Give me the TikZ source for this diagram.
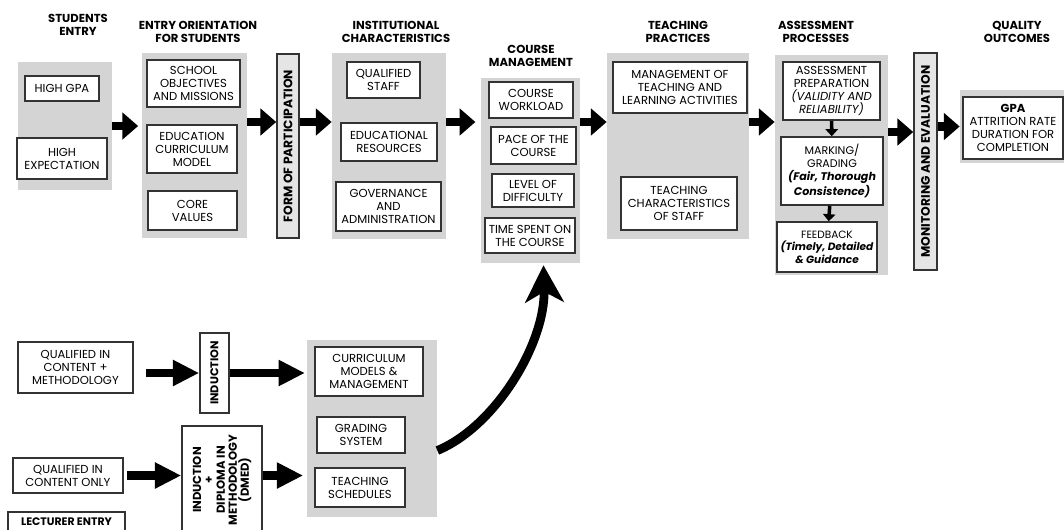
\documentclass[tikz,border=0pt]{standalone}
\usepackage{fontspec}
\setmainfont{Poppins}
\usetikzlibrary{arrows.meta,calc}

\begin{document}
\begin{tikzpicture}[x=0.02cm,y=-0.02cm,
	head/.style={font=\bfseries\fontsize{6.6}{7.4}\selectfont,align=center,inner sep=0pt},
	panel/.style={fill=black!17,inner sep=0pt},
	box/.style={draw=black!80,line width=0.9pt,fill=white,inner sep=1pt,align=center,font=\fontsize{6.6}{7.4}\selectfont},
	bar/.style={box,inner sep=0pt},
	bartxt/.style={rotate=90,font=\bfseries\fontsize{7}{7.6}\selectfont,align=center,inner sep=0pt},
	bigarrow/.style={line width=5pt,-{Triangle[length=9pt,width=15pt]}},
	lowarrow/.style={line width=5pt,-{Triangle[length=15pt,width=14pt]}},
	smallarrow/.style={line width=2pt,-{Triangle[length=4pt,width=7pt]}},
	curvearrow/.style={line width=5pt,-{Stealth[length=21pt,width=22pt,inset=6pt]}}]
	\useasboundingbox (0,0) rectangle (1064,529);
	%HEADINGS
	\node[head] (hStud) at (78,25) {STUDENTS\\ENTRY};
	\node[head] (hOrient) at (198,32) {ENTRY ORIENTATION\\FOR STUDENTS};
	\node[head] (hInst) at (396,32) {INSTITUTIONAL\\CHARACTERISTICS};
	\node[head] (hCourse) at (531,56) {COURSE\\MANAGEMENT};
	\node[head] (hTeach) at (678,32) {TEACHING\\PRACTICES};
	\node[head] (hAssess) at (816,32) {ASSESSMENT\\PROCESSES};
	\node[head] (hQual) at (1017,32) {QUALITY\\OUTCOMES};
	%GREY PANELS
	\node[panel,minimum width=1.88cm,minimum height=2.56cm] (pStud) at (65,126) {};
	\node[panel,minimum width=2.10cm,minimum height=3.70cm] (pOrient) at (194.5,145.5) {};
	\node[panel,minimum width=2.28cm,minimum height=3.72cm] (pInst) at (389,146) {};
	\node[panel,minimum width=1.98cm,minimum height=3.70cm] (pCourse) at (530.5,170.5) {};
	\node[panel,minimum width=2.84cm,minimum height=3.72cm] (pTeach) at (678,146) {};
	\node[panel,minimum width=2.26cm,minimum height=4.40cm] (pAssess) at (831.5,165) {};
	\node[panel,minimum width=2.10cm,minimum height=1.46cm] (pQual) at (1012.5,126.5) {};
	\node[panel,minimum width=2.60cm,minimum height=3.54cm] (pCurr) at (372,428.5) {};
	%STUDENTS ENTRY
	\node[box,minimum width=1.48cm,minimum height=0.50cm] (gpa) at (62,88.5) {HIGH GPA};
	\node[box,minimum width=1.80cm,minimum height=0.82cm] (expect) at (62,158.5) {HIGH\\EXPECTATION};
	%ORIENTATION
	\node[box,minimum width=1.86cm,minimum height=0.94cm] (school) at (193.5,83.5) {SCHOOL\\OBJECTIVES\\AND MISSIONS};
	\node[box,minimum width=1.80cm,minimum height=0.96cm] (educ) at (192,149) {EDUCATION\\CURRICULUM\\MODEL};
	\node[box,minimum width=1.78cm,minimum height=0.78cm] (core) at (192.5,210.5) {CORE\\VALUES};
	\node[bar,fill=black!10,minimum width=0.44cm,minimum height=3.68cm,label={[bartxt]center:FORM OF PARTICIPATION}] (form) at (288,146) {};
	%INSTITUTION
	\node[box,minimum width=1.46cm,minimum height=0.72cm] (staff) at (383.5,80) {QUALIFIED\\STAFF};
	\node[box,minimum width=1.92cm,minimum height=0.76cm] (res) at (389,142) {EDUCATIONAL\\RESOURCES};
	\node[box,minimum width=2.10cm,minimum height=0.98cm] (gov) at (388.5,206.5) {GOVERNANCE\\AND\\ADMINISTRATION};
	%COURSE
	\node[box,minimum width=1.68cm,minimum height=0.72cm] (work) at (531,100) {COURSE\\WORKLOAD};
	\node[box,minimum width=1.70cm,minimum height=0.74cm] (pace) at (533.5,145.5) {PACE OF THE\\COURSE};
	\node[box,minimum width=1.64cm,minimum height=0.66cm] (level) at (533,190.5) {LEVEL OF\\DIFFICULTY};
	\node[box,minimum width=1.80cm,minimum height=0.70cm] (time) at (530,235.5) {TIME SPENT ON\\THE COURSE};
	%TEACHING
	\node[box,minimum width=2.68cm,minimum height=1.02cm] (mgmt) at (680,87.5) {MANAGEMENT OF\\TEACHING AND\\LEARNING ACTIVITIES};
	\node[box,minimum width=2.32cm,minimum height=1.06cm] (tchar) at (679,203.5) {TEACHING\\CHARACTERISTICS\\OF STAFF};
	%ASSESSMENT
	\node[box,minimum width=1.94cm,minimum height=1.16cm] (prep) at (831.5,91) {ASSESSMENT\\PREPARATION\\\textit{(VALIDITY AND}\\\textit{RELIABILITY)}};
	\node[box,font=\fontsize{6.3}{7.4}\selectfont,minimum width=2.04cm,minimum height=1.36cm] (mark) at (832,171) {MARKING/\\GRADING\\\textbf{\textit{(Fair, Thorough}}\\\textbf{\textit{Consistence)}}};
	\node[box,font=\fontsize{6}{7.2}\selectfont,minimum width=2.00cm,minimum height=1.00cm] (feed) at (827,247) {FEEDBACK\\\textbf{\textit{(Timely, Detailed}}\\\textbf{\textit{\& Guidance}}};
	\draw[smallarrow] (prep) -- (mark);
	\draw[smallarrow] (mark) -- (feed);
	\node[bar,fill=black!10,minimum width=0.46cm,minimum height=4.34cm,label={[bartxt]center:MONITORING AND EVALUATION}] (monit) at (925.5,161.5) {};
	%OUTCOMES
	\node[box,minimum width=2.00cm,minimum height=1.24cm] (out) at (1013,128) {\textbf{GPA}\\ATTRITION RATE\\DURATION FOR\\COMPLETION};
	%MAIN ROW ARROWS
	\coordinate (row) at (0,122);
	\coordinate (row2) at (0,132);
	\draw[bigarrow,shorten >=2pt] (pStud.east) -- (pStud.east -| pOrient.west);
	\draw[bigarrow] (pOrient.east |- row) -- (form.west |- row);
	\draw[bigarrow] (form.east |- row) -- (pInst.west |- row);
	\draw[bigarrow,shorten >=3pt] (pInst.east |- row) -- (pCourse.west |- row);
	\draw[bigarrow] (pCourse.east |- row) -- (pTeach.west |- row);
	\draw[bigarrow] (pTeach.east |- row) -- (pAssess.west |- row);
	\draw[bigarrow] (pAssess.east |- row2) -- (monit.west |- row2);
	\draw[bigarrow] (monit.east |- pQual.west) -- (pQual.west);
	%LECTURER ENTRY
	\node[box,minimum width=2.30cm,minimum height=1.02cm] (qcm) at (75.5,367.5) {QUALIFIED IN\\CONTENT +\\METHODOLOGY};
	\node[bar,minimum width=0.58cm,minimum height=1.60cm,label={[bartxt,font=\bfseries\fontsize{6.4}{7}\selectfont]center:INDUCTION}] (ind) at (214.5,373) {};
	\node[box,minimum width=2.20cm,minimum height=0.70cm] (qco) at (68,475.5) {QUALIFIED IN\\CONTENT ONLY};
	\node[bar,minimum width=1.60cm,minimum height=2.16cm,label={[bartxt,font=\bfseries\fontsize{6.6}{6.8}\selectfont]center:{INDUCTION\\+\\DIPLOMA IN\\METHODOLOGY\\(DMED)}}] (indDip) at (222,480) {};
	\node[box,font=\bfseries\fontsize{6.2}{7}\selectfont,minimum width=2.34cm,minimum height=0.40cm] (lect) at (66.5,522) {LECTURER ENTRY};
	\node[box,minimum width=2.16cm,minimum height=0.98cm] (curr) at (369,371.5) {CURRICULUM\\MODELS \&\\MANAGEMENT};
	\node[box,minimum width=1.76cm,minimum height=0.72cm] (grade) at (361,435) {GRADING\\SYSTEM};
	\node[box,minimum width=1.80cm,minimum height=0.78cm] (sched) at (360,487.5) {TEACHING\\SCHEDULES};
	\draw[lowarrow,shorten <=7pt] (qcm.east |- ind.west) -- (ind.west);
	\draw[lowarrow,shorten >=1pt] (ind.east) -- (ind.east -| pCurr.west);
	\draw[lowarrow,shorten <=2pt] (qco.east) -- (qco.east -| indDip.west);
	\draw[lowarrow,shorten >=2pt] (indDip.east |- qco.east) -- (qco.east -| pCurr.west);
	%CURVED ARROW TO COURSE MANAGEMENT
	\draw[curvearrow] ($(pCurr.east)+(0,22)$) .. controls ($(pCurr.east)+(58,-2)$) and ($(pCourse.south)+(15,80)$) .. ($(pCourse.south)+(13,2)$);
\end{tikzpicture}
\end{document}
